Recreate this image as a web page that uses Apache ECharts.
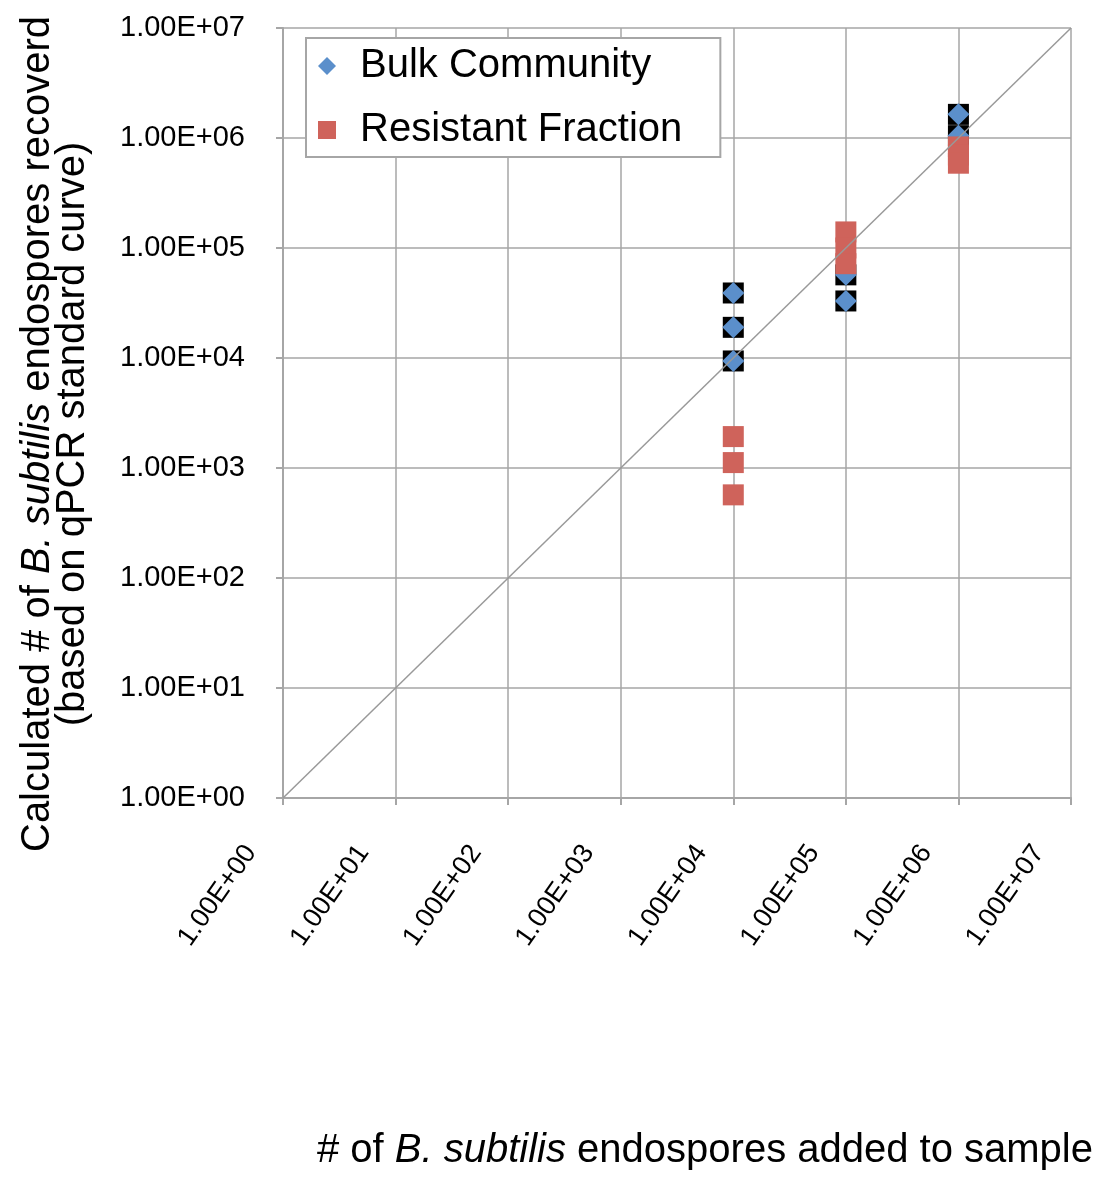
<!DOCTYPE html>
<html>
<head>
<meta charset="utf-8">
<script src="https://cdn.jsdelivr.net/npm/echarts@6/dist/echarts.min.js"></script>
<style>
html,body{margin:0;padding:0;background:#fff;}
#chart{width:1096px;height:1179px;}
</style>
</head>
<body>
<div id="chart"></div>
<script>
// ---- data ----
const tickLabels = ['1.00E+00','1.00E+01','1.00E+02','1.00E+03','1.00E+04','1.00E+05','1.00E+06','1.00E+07'];
const bulkX = [1e4, 1e4, 1e4, 1e5, 1e5, 1e6, 1e6];
const bulkY = [3.9e4, 1.9e4, 9.4e3, 5.7e4, 3.3e4, 1.64e6, 1.05e6];
const resistantX = [1e4, 1e4, 1e4, 1e5, 1e5, 1e5, 1e6, 1e6, 1e6];
const resistantY = [1.93e3, 1.12e3, 5.7e2, 1.4e5, 1.0e5, 7.2e4, 8.3e5, 7.0e5, 5.9e5];
const refLineX = [1, 1e7];
const refLineY = [1, 1e7];

const FONT = "'Liberation Sans', Arial, Helvetica, sans-serif";
const GRID = '#a6a6a6';
const zip = (xs, ys) => xs.map((x, i) => [x, ys[i]]);
const fmt = v => tickLabels[Math.round(Math.log10(v))] || '';

const chart = echarts.init(document.getElementById('chart'), null, {renderer: 'canvas'});
chart.setOption({
  animation: false,
  backgroundColor: '#fff',
  grid: {left: 283, right: 25, top: 28, bottom: 381, containLabel: false},
  xAxis: {
    type: 'log', logBase: 10, min: 1, max: 1e7, splitNumber: 7,
    axisLine: {show: true, lineStyle: {color: GRID, width: 2}},
    axisTick: {show: true, length: 7, lineStyle: {color: GRID, width: 2}},
    minorTick: {show: false},
    splitLine: {show: true, lineStyle: {color: GRID, width: 1.5}},
    axisLabel: {
      formatter: fmt, rotate: 55, margin: 4, fontSize: 27, color: '#000',
      fontFamily: FONT, padding: [0, 56, 0, 0]
    }
  },
  yAxis: {
    type: 'log', logBase: 10, min: 1, max: 1e7, splitNumber: 7,
    axisLine: {show: true, lineStyle: {color: GRID, width: 2}},
    axisTick: {show: true, length: 7, lineStyle: {color: GRID, width: 2}},
    minorTick: {show: false},
    splitLine: {show: true, lineStyle: {color: GRID, width: 1.5}},
    axisLabel: {formatter: fmt, margin: 38, fontSize: 29, color: '#000', fontFamily: FONT}
  },
  legend: {
    left: 306, top: 38, orient: 'vertical',
    data: ['Bulk Community', 'Resistant Fraction'],
    backgroundColor: '#fff', borderColor: GRID, borderWidth: 2, borderRadius: 0,
    padding: [8, 38, 7, 12], itemGap: 24, itemWidth: 18, itemHeight: 18,
    textStyle: {fontSize: 40, color: '#000', fontFamily: FONT, padding: [0, 0, 0, 19]}
  },
  graphic: [
    {
      type: 'text', x: 55, y: 434, rotation: Math.PI / 2,
      style: {
        text: '{a|Calculated # of }{i|B. subtilis}{a| endospores recoverd}\n{a|(based on qPCR standard curve)}',
        align: 'center', verticalAlign: 'middle',
        rich: {
          a: {fontSize: 40, fontFamily: FONT, fill: '#000', lineHeight: 35, align: 'center'},
          i: {fontSize: 40, fontFamily: FONT, fontStyle: 'italic', fill: '#000', lineHeight: 35}
        }
      }
    },
    {
      type: 'text', x: 1093, y: 1151,
      style: {
        text: '{a|# of }{i|B. subtilis}{a| endospores added to sample}',
        align: 'right', verticalAlign: 'middle',
        rich: {
          a: {fontSize: 40, fontFamily: FONT, fill: '#000'},
          i: {fontSize: 40, fontFamily: FONT, fontStyle: 'italic', fill: '#000'}
        }
      }
    }
  ],
  series: [
    {
      name: 'bulk-backing', type: 'scatter', symbol: 'rect', symbolSize: 21,
      itemStyle: {color: '#000', opacity: 1}, data: zip(bulkX, bulkY), silent: true
    },
    {
      name: 'Bulk Community', type: 'scatter', symbol: 'diamond', symbolSize: 22,
      itemStyle: {color: '#5b8fcb', opacity: 1}, data: zip(bulkX, bulkY)
    },
    {
      name: 'Resistant Fraction', type: 'scatter', symbol: 'rect', symbolSize: 21,
      itemStyle: {color: '#cf635b', opacity: 1}, data: zip(resistantX, resistantY)
    },
    {
      name: 'y = x', type: 'line', symbol: 'none', data: zip(refLineX, refLineY),
      lineStyle: {color: '#999', width: 1.5}, z: 5, silent: true
    }
  ]
});
</script>
</body>
</html>
